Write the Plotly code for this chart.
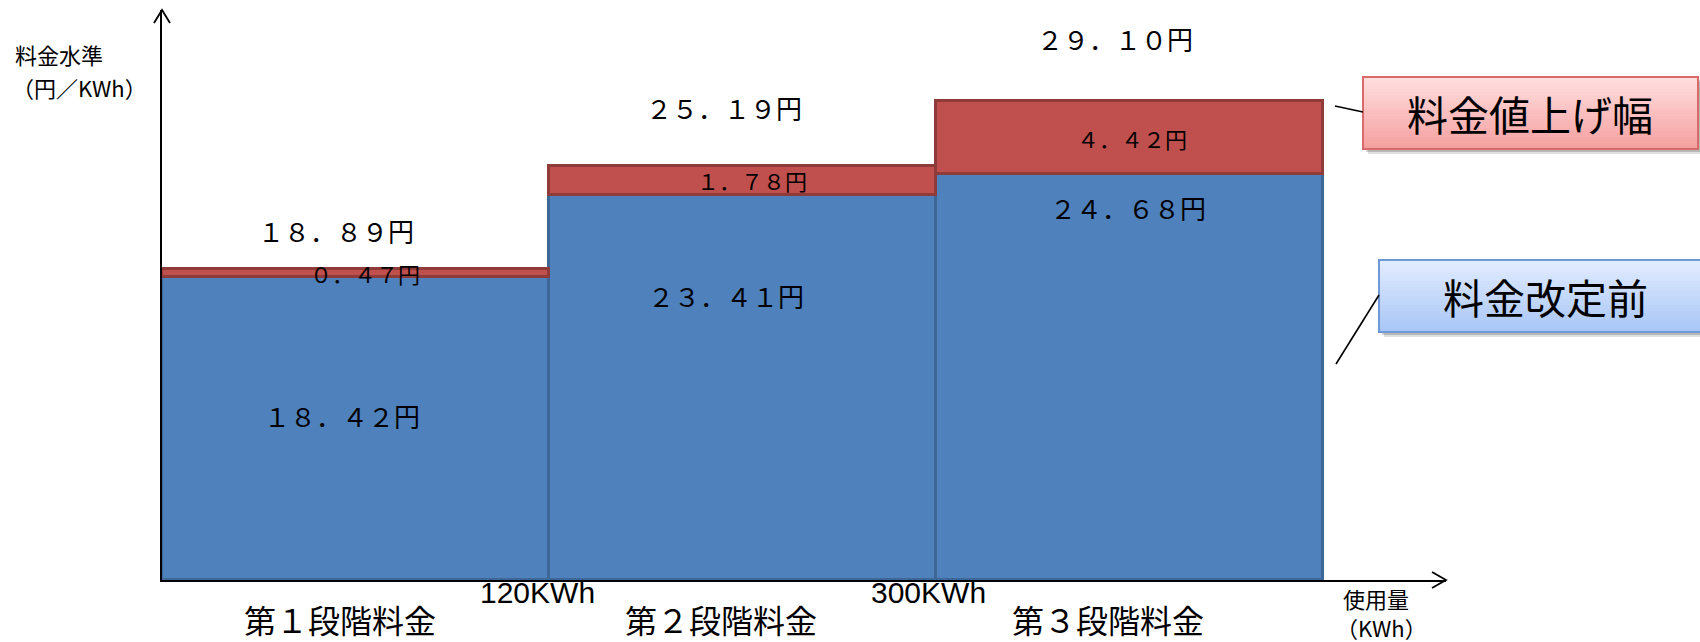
import plotly.graph_objects as go

# ---------------- data ----------------
tiers = ["第１段階料金", "第２段階料金", "第３段階料金"]
boundary_labels = ["120KWh", "300KWh"]
before_price = [18.42, 23.41, 24.68]      # 料金改定前 (円/KWh)
increase = [0.47, 1.78, 4.42]             # 料金値上げ幅 (円/KWh)
after_price = [18.89, 25.19, 29.10]       # 改定後 (円/KWh)
legend_names = ["料金改定前", "料金値上げ幅"]

# ---------------- geometry helpers ----------------
W, H = 1700, 642
L, R = 162, 1446          # plot-area pixel bounds
T, B = 10, 580
TIER_PX = 387.0           # pixels per tier on x
Y_PX = 16.45              # pixels per 円 on y
xmax = (R - L) / TIER_PX
ymax = (B - T) / Y_PX

def px(x):   # pixel x -> paper
    return (x - L) / (R - L)

def py(y):   # pixel y -> paper
    return (B - y) / (B - T)

FW = str.maketrans("0123456789.", "０１２３４５６７８９．")
def yen(v):
    return f"{v:.2f}".translate(FW) + "円"

JP = "Noto Sans CJK JP"
xs = [i + 0.5 for i in range(len(tiers))]

fig = go.Figure()
fig.add_bar(x=xs, y=before_price, width=1, name=legend_names[0],
            marker=dict(color="#4F81BD", line=dict(color="#3C6796", width=3)))
fig.add_bar(x=xs, y=increase, width=1, name=legend_names[1],
            marker=dict(color="#C0504D", line=dict(color="#8E3B39", width=3)))

ann = []
def text(x, y, s, size, xanchor="center", family=JP, xref="paper", yref="paper"):
    ann.append(dict(x=x, y=y, xref=xref, yref=yref, text=s, showarrow=False,
                    xanchor=xanchor, yanchor="middle",
                    font=dict(family=family, size=size, color="black")))

# totals above bars
top_px = [(336, 230), (724, 108), (1115, 38)]
for (tx, ty), v in zip(top_px, after_price):
    text(px(tx), py(ty), yen(v), 26)
# increase labels (centre of red segment)
inc_x = [365, 752, 1132]
for i, v in enumerate(increase):
    text(px(inc_x[i]), before_price[i] + v / 2, yen(v), 22, yref="y")
# before-price labels
blue_px = [(342, 415), (726, 295), (1128, 208)]
for (tx, ty), v in zip(blue_px, before_price):
    text(px(tx), py(ty), yen(v), 26)

# tier labels & boundary labels
tier_px = [340, 721, 1108]
for tx, s in zip(tier_px, tiers):
    text(px(tx), py(619), s, 32)
bnd_px = [537, 928]
for tx, s in zip(bnd_px, boundary_labels):
    text(px(tx), py(592), s, 30, family="Liberation Sans")

# axis titles
text(px(13), py(54), "料金水準", 22, xanchor="left")
text(px(10), py(87), "（円／KWh）", 22, xanchor="left")
text(px(1341), py(598), "使用量", 22, xanchor="left")
text(px(1334), py(627), "（KWh）", 22, xanchor="left")

# legend-like callout boxes
shapes = []
def grad_box(x0, y0, x1, y1, ctop, cbot, border, n=24):
    for off, op in [(5, 0.12), (3, 0.18)]:
        shapes.append(dict(type="rect", xref="paper", yref="paper",
                           x0=px(x0 + off), x1=px(x1 + off), y0=py(y0 + off), y1=py(y1 + off),
                           fillcolor=f"rgba(0,0,0,{op})", line=dict(width=0), layer="above"))
    h = (y1 - y0) / n
    for i in range(n):
        t = i / (n - 1)
        c = tuple(int(round(a + (b - a) * t)) for a, b in zip(ctop, cbot))
        shapes.append(dict(type="rect", xref="paper", yref="paper",
                           x0=px(x0), x1=px(x1), y0=py(y0 + i * h), y1=py(y0 + (i + 1) * h + 0.6),
                           fillcolor=f"rgb{c}", line=dict(width=0), layer="above"))
    shapes.append(dict(type="rect", xref="paper", yref="paper",
                       x0=px(x0), x1=px(x1), y0=py(y0), y1=py(y1),
                       line=dict(color=border, width=2), layer="above"))

grad_box(1363, 77, 1698, 149, (255, 222, 222), (245, 160, 160), "#D86A6A")
grad_box(1379, 260, 1712, 332, (226, 236, 255), (168, 198, 246), "#6F98D6")
text(px(1530), py(113), legend_names[1], 41)
text(px(1545), py(296), legend_names[0], 41)

def seg(x0, y0, x1, y1, w=1.6):
    shapes.append(dict(type="line", xref="paper", yref="paper",
                       x0=px(x0), y0=py(y0), x1=px(x1), y1=py(y1),
                       line=dict(color="black", width=w), layer="above"))

seg(1335, 106, 1363, 112)
seg(1379, 295, 1336, 364)

# axis arrowheads
shapes.append(dict(type="path", xref="paper", yref="paper",
                   path=f"M {px(154)} {py(23)} L {px(162)} {py(10)} L {px(170)} {py(23)}",
                   line=dict(color="black", width=1.8)))
shapes.append(dict(type="path", xref="paper", yref="paper",
                   path=f"M {px(1432)} {py(572)} L {px(1446)} {py(580)} L {px(1432)} {py(588)}",
                   line=dict(color="black", width=1.8)))

fig.update_layout(
    width=W, height=H,
    margin=dict(l=L, r=W - R, t=T, b=H - B, pad=0),
    barmode="stack", bargap=0,
    showlegend=False,
    plot_bgcolor="white", paper_bgcolor="white",
    xaxis=dict(range=[0, xmax], showgrid=False, zeroline=False, showticklabels=False,
               ticks="", showline=True, linecolor="black", linewidth=1.8, layer="below traces",
               fixedrange=True),
    yaxis=dict(range=[0, ymax], showgrid=False, zeroline=False, showticklabels=False,
               ticks="", showline=True, linecolor="black", linewidth=1.8, layer="below traces",
               fixedrange=True),
    annotations=ann,
    shapes=shapes,
)

fig.write_html("out.html")
